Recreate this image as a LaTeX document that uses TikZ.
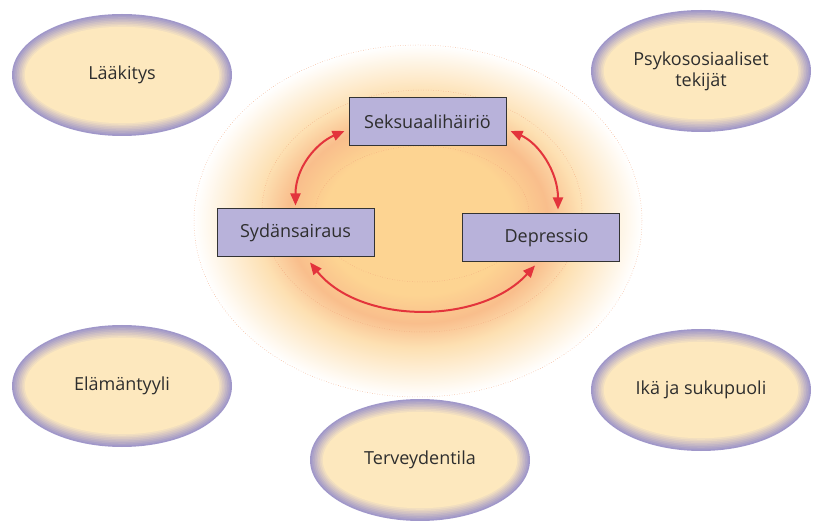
\documentclass[tikz,border=0pt]{standalone}
\usepackage{fontspec}
\setmainfont{Open Sans}
\usetikzlibrary{shapes.geometric,arrows.meta}
\definecolor{cream}{HTML}{FDE8BE}
\definecolor{lav}{HTML}{A097C9}
\definecolor{boxfill}{HTML}{B8B2DA}
\definecolor{arrowred}{HTML}{E3343C}
\definecolor{glowA}{HTML}{FDD492}
\definecolor{glowB}{HTML}{F9BE8C}
\definecolor{glowC}{HTML}{FDE0B2}
\definecolor{dotline}{HTML}{F2A77E}
\definecolor{textgray}{HTML}{2E2E2E}
\pgfdeclareradialshading{glow}{\pgfpoint{0bp}{0bp}}{color(0bp)=(glowA); color(10.5bp)=(glowA); color(14.5bp)=(glowB); color(18bp)=(glowC); color(25bp)=(white); color(50bp)=(white)}
\tikzset{
  factor/.style={text=textgray, font=\fontsize{18}{21}\selectfont, align=center},
  disorder/.style={draw=black!80, line width=1pt, fill=boxfill, minimum width=157pt, minimum height=48pt, inner sep=0pt, text=textgray, font=\fontsize{18}{21}\selectfont},
  link/.style={arrowred, line width=2pt, {Triangle[length=12pt,width=10pt]}-{Triangle[length=12pt,width=10pt]}},
  ring/.style={dotline, dotted, line width=0.5pt}
}
\begin{document}
\begin{tikzpicture}[x=1pt,y=-1pt]
  \useasboundingbox (0,0) rectangle (817,521);

  % Glow behind the cycle
  \shade[shading=glow] (418,221) ellipse [x radius=224pt, y radius=176pt];
  \draw[ring] (418,221) ellipse [x radius=224pt, y radius=176pt];
  \draw[ring] (422,211) ellipse [x radius=160pt, y radius=121pt];
  \draw[ring] (422,214) ellipse [x radius=107pt, y radius=68pt];

  % Factors (ellipses with a lavender rim)
  \foreach \nm/\cx/\cy/\lbl in {laa/122/75/Lääkitys, psy/701/71/{Psykososiaaliset\\tekijät},
      ela/122/386/Elämäntyyli, ika/701/390/Ikä ja sukupuoli, ter/420/460/Terveydentila} {
    \foreach \k in {0,...,8} {
      \pgfmathtruncatemacro\mix{\k*12.5}
      \fill[cream!\mix!lav] (\cx,\cy) ellipse [x radius=110pt-\k*1.6pt, y radius=61pt-\k*1.6pt];
    }
    \node[factor] (\nm) at (\cx,\cy) {\lbl};
  }

  % Disorders
  \node[disorder] (sek) at (427.5,122) {Seksuaalihäiriö};
  \node[disorder] (syd) at (295.5,233) {Sydänsairaus};
  \node[disorder] (dep) at (540.5,238) {\hspace{12pt}Depressio};

  % Links
  \draw[link] ([xshift=-4pt,yshift=-9pt]sek.west) .. controls +(-28,12) and +(0,-38) .. ([yshift=3pt]syd.north);
  \draw[link] ([xshift=4pt,yshift=-9pt]sek.east) .. controls +(28,12) and +(0,-38) .. ([xshift=17.5pt,yshift=4pt]dep.north);
  \draw[link] ([xshift=14.5pt,yshift=-5pt]syd.south) .. controls +(50,62) and +(-55,60) .. ([xshift=-5.5pt,yshift=-3pt]dep.south);
\end{tikzpicture}
\end{document}
